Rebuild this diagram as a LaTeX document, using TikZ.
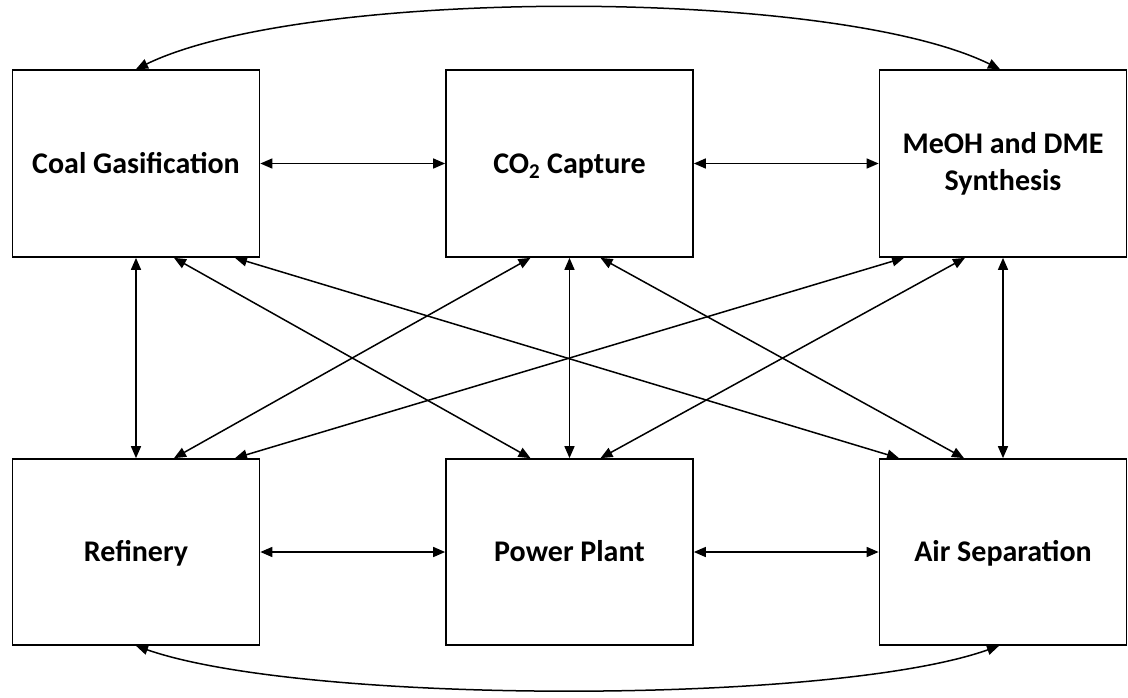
\documentclass[tikz,border=0pt]{standalone}
\usepackage{fontspec}
\setmainfont{Carlito}
\usetikzlibrary{arrows.meta}
\begin{document}
\begin{tikzpicture}[x=1pt,y=-1pt,
  box/.style={draw,line width=1.7pt,minimum width=247pt,minimum height=187pt,inner sep=0pt,
    font=\fontsize{30}{37}\selectfont\bfseries},
  onel/.style={text height=19pt,text depth=0pt},
  link/.style={line width=1.5pt,{Triangle[length=12pt,width=10pt]}-{Triangle[length=12pt,width=10pt]}}]
\useasboundingbox (0,0) rectangle (1128,697);
\fill[white] (0,0) rectangle (1128,697);
% boxes
\node[box,onel] (cg) at (136,163.5) {Coal Gasification};
\node[box,onel] (cc) at (569.5,163.5) {CO\textsubscript{2} Capture};
\node[box,align=center] (me) at (1003,163.5) {MeOH and DME\\Synthesis};
\node[box,onel,minimum height=186pt] (rf) at (136,552) {Refinery};
\node[box,onel,minimum height=186pt] (pp) at (569.5,552) {Power Plant};
\node[box,onel,minimum height=186pt] (as) at (1003,552) {Air Separation};
% horizontal links
\draw[link] (cg.east) -- (cc.west);
\draw[link] (cc.east) -- (me.west);
\draw[link] (rf.east) -- (pp.west);
\draw[link] (pp.east) -- (as.west);
% vertical links
\draw[link] (cg.south) -- (rf.north);
\draw[link] (cc.south) -- (pp.north);
\draw[link] (me.south) -- (as.north);
% diagonal links
\draw[link] ([xshift=38pt]cg.south) -- ([xshift=-39pt]pp.north);
\draw[link] ([xshift=99pt]cg.south) -- ([xshift=-104pt]as.north);
\draw[link] ([xshift=-39pt]cc.south) -- ([xshift=38pt]rf.north);
\draw[link] ([xshift=31pt]cc.south) -- ([xshift=-39pt]as.north);
\draw[link] ([xshift=-99pt]me.south) -- ([xshift=99pt]rf.north);
\draw[link] ([xshift=-38pt]me.south) -- ([xshift=31pt]pp.north);
% curved links
\draw[link] (cg.north) .. controls (305,-13) and (833,-13) .. ([xshift=-3pt]me.north);
\draw[link] (rf.south) .. controls (305,705) and (833,705) .. ([xshift=-4pt]as.south);
\end{tikzpicture}
\end{document}
